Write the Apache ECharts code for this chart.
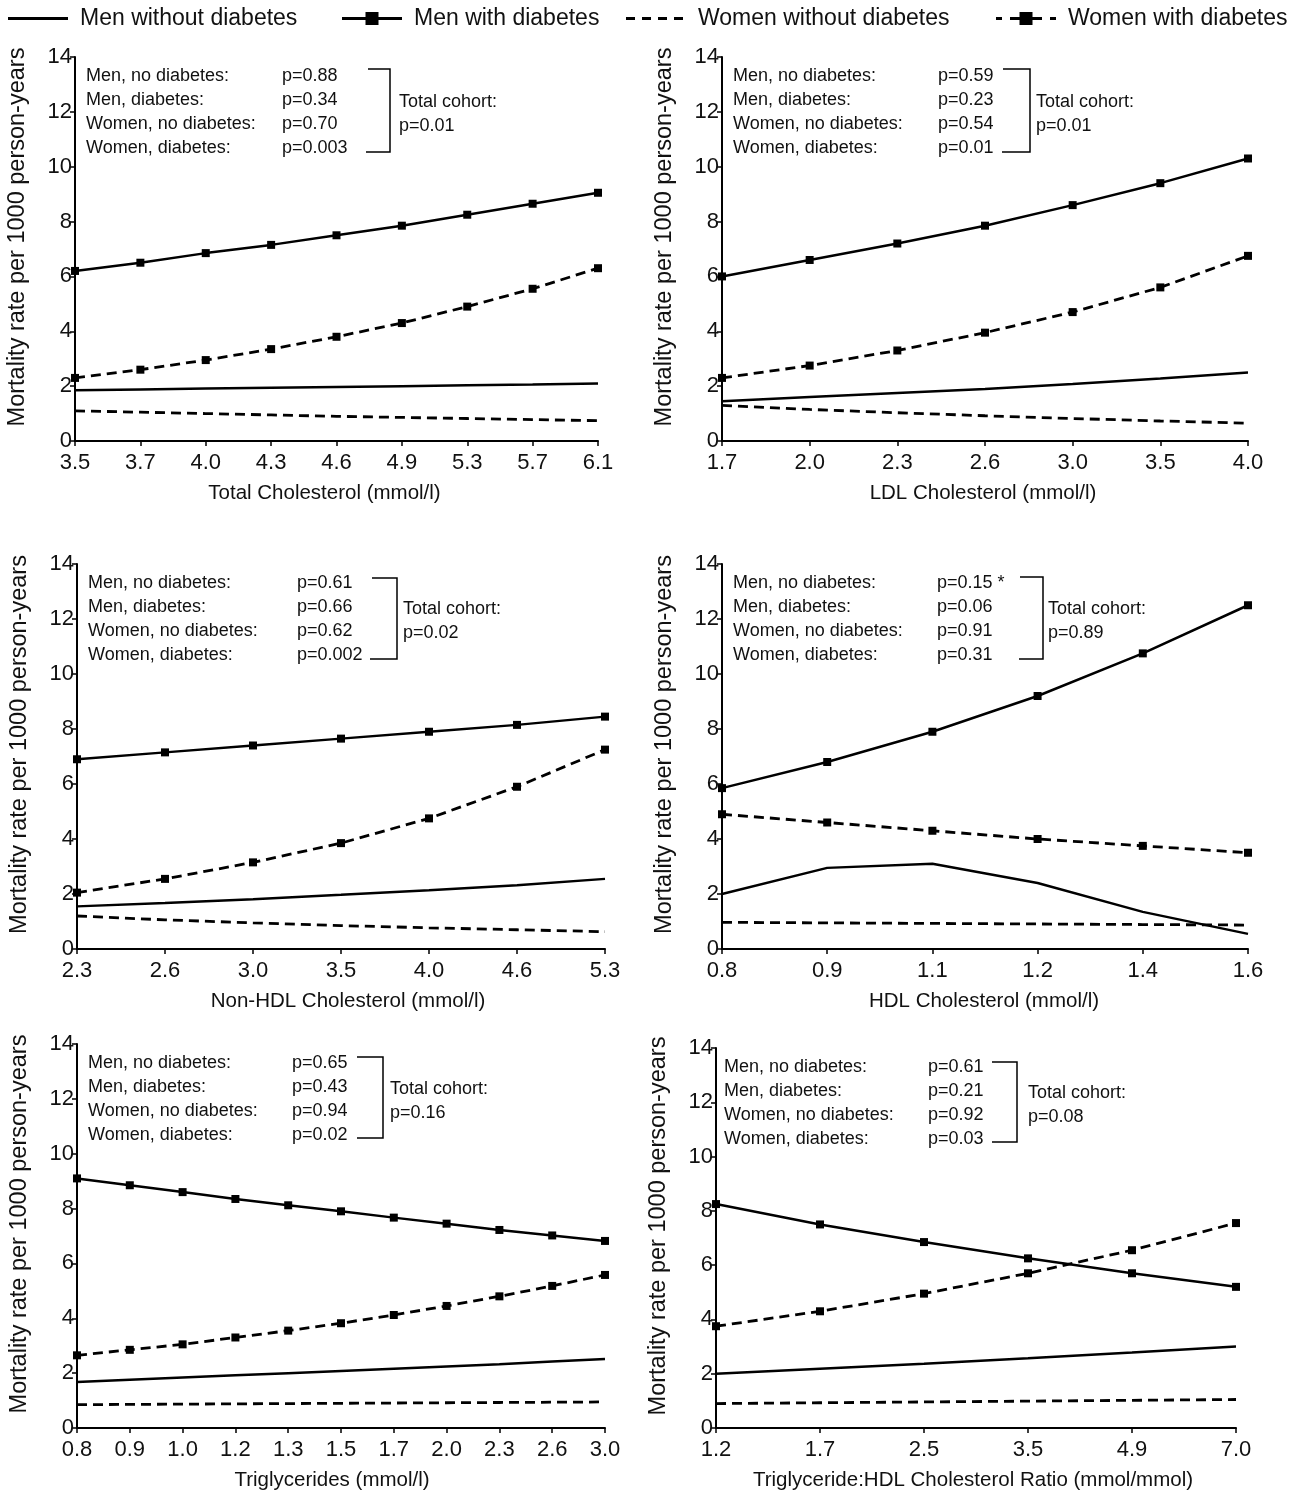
<!DOCTYPE html>
<html><head><meta charset="utf-8">
<script src="https://cdn.jsdelivr.net/npm/echarts@6/dist/echarts.min.js"></script>
<style>html,body{margin:0;padding:0;background:#fff}#c{width:1299px;height:1500px}</style>
</head><body><div id="c"></div><script>
const seriesNames = ['Men without diabetes', 'Men with diabetes', 'Women without diabetes', 'Women with diabetes'];
const yTicks = [0, 2, 4, 6, 8, 10, 12, 14];
const yTitle = 'Mortality rate per 1000 person-years';
const groupLabels = ['Men, no diabetes:', 'Men, diabetes:', 'Women, no diabetes:', 'Women, diabetes:'];

// Panel A: Total cholesterol
const tcTitle = 'Total Cholesterol (mmol/l)';
const tcCats = ['3.5', '3.7', '4.0', '4.3', '4.6', '4.9', '5.3', '5.7', '6.1'];
const tcMenNoDm = [1.85, 1.88, 1.91, 1.94, 1.97, 2.0, 2.03, 2.06, 2.1];
const tcMenDm = [6.2, 6.5, 6.85, 7.15, 7.5, 7.85, 8.25, 8.65, 9.05];
const tcWomenNoDm = [1.1, 1.05, 1.0, 0.95, 0.9, 0.86, 0.82, 0.78, 0.74];
const tcWomenDm = [2.3, 2.6, 2.95, 3.35, 3.8, 4.3, 4.9, 5.55, 6.3];
const tcP = ['p=0.88', 'p=0.34', 'p=0.70', 'p=0.003'];
const tcTotal = 'p=0.01';

// Panel B: LDL cholesterol
const ldlTitle = 'LDL Cholesterol (mmol/l)';
const ldlCats = ['1.7', '2.0', '2.3', '2.6', '3.0', '3.5', '4.0'];
const ldlMenNoDm = [1.45, 1.6, 1.75, 1.9, 2.08, 2.28, 2.5];
const ldlMenDm = [6.0, 6.6, 7.2, 7.85, 8.6, 9.4, 10.3];
const ldlWomenNoDm = [1.3, 1.15, 1.03, 0.92, 0.82, 0.73, 0.65];
const ldlWomenDm = [2.3, 2.75, 3.3, 3.95, 4.7, 5.6, 6.75];
const ldlP = ['p=0.59', 'p=0.23', 'p=0.54', 'p=0.01'];
const ldlTotal = 'p=0.01';

// Panel C: Non-HDL cholesterol
const nhTitle = 'Non-HDL Cholesterol (mmol/l)';
const nhCats = ['2.3', '2.6', '3.0', '3.5', '4.0', '4.6', '5.3'];
const nhMenNoDm = [1.55, 1.67, 1.81, 1.97, 2.14, 2.32, 2.55];
const nhMenDm = [6.9, 7.15, 7.4, 7.65, 7.9, 8.15, 8.45];
const nhWomenNoDm = [1.2, 1.06, 0.95, 0.85, 0.77, 0.7, 0.63];
const nhWomenDm = [2.05, 2.55, 3.15, 3.85, 4.75, 5.9, 7.25];
const nhP = ['p=0.61', 'p=0.66', 'p=0.62', 'p=0.002'];
const nhTotal = 'p=0.02';

// Panel D: HDL cholesterol
const hdlTitle = 'HDL Cholesterol (mmol/l)';
const hdlCats = ['0.8', '0.9', '1.1', '1.2', '1.4', '1.6'];
const hdlMenNoDm = [2.0, 2.95, 3.1, 2.4, 1.35, 0.55];
const hdlMenDm = [5.85, 6.8, 7.9, 9.2, 10.75, 12.5];
const hdlWomenNoDm = [0.97, 0.95, 0.93, 0.91, 0.89, 0.87];
const hdlWomenDm = [4.9, 4.6, 4.3, 4.0, 3.75, 3.5];
const hdlP = ['p=0.15 *', 'p=0.06', 'p=0.91', 'p=0.31'];
const hdlTotal = 'p=0.89';

// Panel E: Triglycerides
const tgTitle = 'Triglycerides (mmol/l)';
const tgCats = ['0.8', '0.9', '1.0', '1.2', '1.3', '1.5', '1.7', '2.0', '2.3', '2.6', '3.0'];
const tgMenNoDm = [1.68, 1.76, 1.84, 1.92, 2.0, 2.08, 2.16, 2.24, 2.32, 2.42, 2.52];
const tgMenDm = [9.1, 8.85, 8.6, 8.35, 8.12, 7.9, 7.67, 7.45, 7.22, 7.02, 6.82];
const tgWomenNoDm = [0.85, 0.86, 0.87, 0.88, 0.89, 0.9, 0.91, 0.92, 0.93, 0.94, 0.95];
const tgWomenDm = [2.65, 2.85, 3.05, 3.3, 3.55, 3.82, 4.12, 4.45, 4.8, 5.18, 5.58];
const tgP = ['p=0.65', 'p=0.43', 'p=0.94', 'p=0.02'];
const tgTotal = 'p=0.16';

// Panel F: Triglyceride:HDL ratio
const ratioTitle = 'Triglyceride:HDL Cholesterol Ratio (mmol/mmol)';
const ratioCats = ['1.2', '1.7', '2.5', '3.5', '4.9', '7.0'];
const ratioMenNoDm = [2.0, 2.18, 2.37, 2.57, 2.78, 3.0];
const ratioMenDm = [8.25, 7.5, 6.85, 6.25, 5.7, 5.2];
const ratioWomenNoDm = [0.9, 0.93, 0.96, 0.99, 1.02, 1.05];
const ratioWomenDm = [3.75, 4.3, 4.95, 5.7, 6.55, 7.55];
const ratioP = ['p=0.61', 'p=0.21', 'p=0.92', 'p=0.03'];
const ratioTotal = 'p=0.08';

const panels = [
  {title: tcTitle, cats: tcCats, vals: [tcMenNoDm, tcMenDm, tcWomenNoDm, tcWomenDm], p: tcP, total: tcTotal},
  {title: ldlTitle, cats: ldlCats, vals: [ldlMenNoDm, ldlMenDm, ldlWomenNoDm, ldlWomenDm], p: ldlP, total: ldlTotal},
  {title: nhTitle, cats: nhCats, vals: [nhMenNoDm, nhMenDm, nhWomenNoDm, nhWomenDm], p: nhP, total: nhTotal},
  {title: hdlTitle, cats: hdlCats, vals: [hdlMenNoDm, hdlMenDm, hdlWomenNoDm, hdlWomenDm], p: hdlP, total: hdlTotal},
  {title: tgTitle, cats: tgCats, vals: [tgMenNoDm, tgMenDm, tgWomenNoDm, tgWomenDm], p: tgP, total: tgTotal},
  {title: ratioTitle, cats: ratioCats, vals: [ratioMenNoDm, ratioMenDm, ratioWomenNoDm, ratioWomenDm], p: ratioP, total: ratioTotal}
];

// layout (pixels)
const layout = [
  {left: 75, top: 57, width: 523, height: 384, lx: 11, px: 207, bx: 315, bTop: 12, bBot: 95, bStartTop: 293, bStartBot: 291, tx: 324, nameShift: -12},
  {left: 722, top: 57, width: 526, height: 384, lx: 11, px: 216, bx: 308, bTop: 12, bBot: 95, bStartTop: 281, bStartBot: 280, tx: 314, nameShift: -2},
  {left: 77, top: 564, width: 528, height: 385, lx: 11, px: 220, bx: 320, bTop: 14, bBot: 95, bStartTop: 295, bStartBot: 293, tx: 326, nameShift: 7},
  {left: 722, top: 564, width: 526, height: 385, lx: 11, px: 215, bx: 321, bTop: 13, bBot: 95, bStartTop: 298, bStartBot: 297, tx: 326, nameShift: -1},
  {left: 77, top: 1044, width: 528, height: 384, lx: 11, px: 215, bx: 306, bTop: 13, bBot: 94, bStartTop: 280, bStartBot: 280, tx: 313, nameShift: -9},
  {left: 716, top: 1048, width: 520, height: 380, lx: 8, px: 212, bx: 301, bTop: 14, bBot: 94, bStartTop: 276, bStartBot: 276, tx: 312, nameShift: -3}
];
const legendLefts = [3, 337, 621, 991];

const FONT = '"Liberation Sans", Arial, sans-serif';
const DASH = [10, 6];
const lineStyles = [
  {width: 2.5, type: 'solid'},
  {width: 2.5, type: 'solid'},
  {width: 2.8, type: DASH},
  {width: 2.8, type: DASH}
];
const hasSymbol = [false, true, false, true];

// legend icons (67 x 16 box; drawn part 0..60)
const box = 'M0,0h0.01v0.01h-0.01z M66.99,15.99h0.01v0.01h-0.01z ';
const legendIcons = [
  'path://' + box + 'M0,6.6h60v2.8h-60z',
  'path://' + box + 'M0,6.4h60v3.2h-60z M23.5,1.5h13v13h-13z',
  'path://' + box + 'M0,6.6h9v2.8h-9z M16,6.6h9v2.8h-9z M32,6.6h9v2.8h-9z M48,6.6h9v2.8h-9z',
  'path://' + box + 'M0,6.6h6v2.8h-6z M14,6.6h10v2.8h-10z M23.5,1.5h13v13h-13z M36,6.6h10v2.8h-10z M54,6.6h6v2.8h-6z'
];

const grid = [], xAxis = [], yAxis = [], series = [], graphic = [];
panels.forEach((p, i) => {
  const L = layout[i];
  grid.push({left: L.left, top: L.top, width: L.width, height: L.height, containLabel: false});
  const sh = L.nameShift;
  xAxis.push({
    type: 'category', gridIndex: i, data: p.cats, boundaryGap: false,
    name: p.title, nameLocation: 'middle', nameGap: 42,
    nameTextStyle: {fontSize: 20.5, color: '#111', fontFamily: FONT,
      padding: sh < 0 ? [0, -2 * sh, 0, 0] : [0, 0, 0, 2 * sh]},
    axisLine: {lineStyle: {color: '#000', width: 2}},
    axisTick: {show: true, inside: false, length: 5, lineStyle: {color: '#000', width: 1.5}, alignWithLabel: true},
    axisLabel: {fontSize: 22, color: '#111', fontFamily: FONT, margin: 11, interval: 0},
    splitLine: {show: false}
  });
  yAxis.push({
    type: 'value', gridIndex: i, min: yTicks[0], max: yTicks[yTicks.length - 1], interval: 2,
    name: yTitle, nameLocation: 'middle', nameGap: 45, nameRotate: 90,
    nameTextStyle: {fontSize: 23.5, color: '#111', fontFamily: FONT, padding: [0, 0, 0, 24]},
    axisLine: {show: true, lineStyle: {color: '#000', width: 2}},
    axisTick: {show: true, inside: false, length: 5, lineStyle: {color: '#000', width: 1.5}},
    axisLabel: {fontSize: 22, color: '#111', fontFamily: FONT, margin: 3},
    splitLine: {show: false}
  });
  seriesNames.forEach((name, k) => {
    series.push({
      type: 'line', name: name, xAxisIndex: i, yAxisIndex: i, data: p.vals[k],
      symbol: hasSymbol[k] ? 'rect' : 'none', symbolSize: 8, showSymbol: hasSymbol[k],
      lineStyle: {color: '#000', width: lineStyles[k].width, type: lineStyles[k].type},
      itemStyle: {color: '#000'},
      animation: false, silent: true
    });
  });
  // annotations
  const rowY = [20, 44, 68, 92];
  groupLabels.forEach((g, r) => {
    graphic.push({type: 'text', left: L.left + L.lx, top: L.top + rowY[r] - 10,
      style: {text: g, font: '18px ' + FONT, fill: '#111'}});
    graphic.push({type: 'text', left: L.left + L.px, top: L.top + rowY[r] - 10,
      style: {text: p.p[r], font: '18px ' + FONT, fill: '#111'}});
  });
  graphic.push({type: 'polyline', silent: true,
    shape: {points: [
      [L.left + L.bStartTop, L.top + L.bTop], [L.left + L.bx, L.top + L.bTop],
      [L.left + L.bx, L.top + L.bBot], [L.left + L.bStartBot, L.top + L.bBot]
    ]},
    style: {stroke: '#000', lineWidth: 1.5, fill: null}});
  graphic.push({type: 'text', left: L.left + L.tx, top: L.top + 36,
    style: {text: 'Total cohort:', font: '18px ' + FONT, fill: '#111'}});
  graphic.push({type: 'text', left: L.left + L.tx, top: L.top + 60,
    style: {text: p.total, font: '18px ' + FONT, fill: '#111'}});
});

const legend = seriesNames.map((name, k) => ({
  data: [{name: name, icon: legendIcons[k]}],
  left: legendLefts[k], top: 2, itemWidth: 67, itemHeight: 16, itemGap: 0,
  textStyle: {fontSize: 23, color: '#111', fontFamily: FONT}, selectedMode: false
}));

const chart = echarts.init(document.getElementById('c'), null, {renderer: 'canvas'});
chart.setOption({
  backgroundColor: '#fff',
  animation: false,
  textStyle: {fontFamily: FONT},
  legend, grid, xAxis, yAxis, series, graphic
});
</script></body></html>
